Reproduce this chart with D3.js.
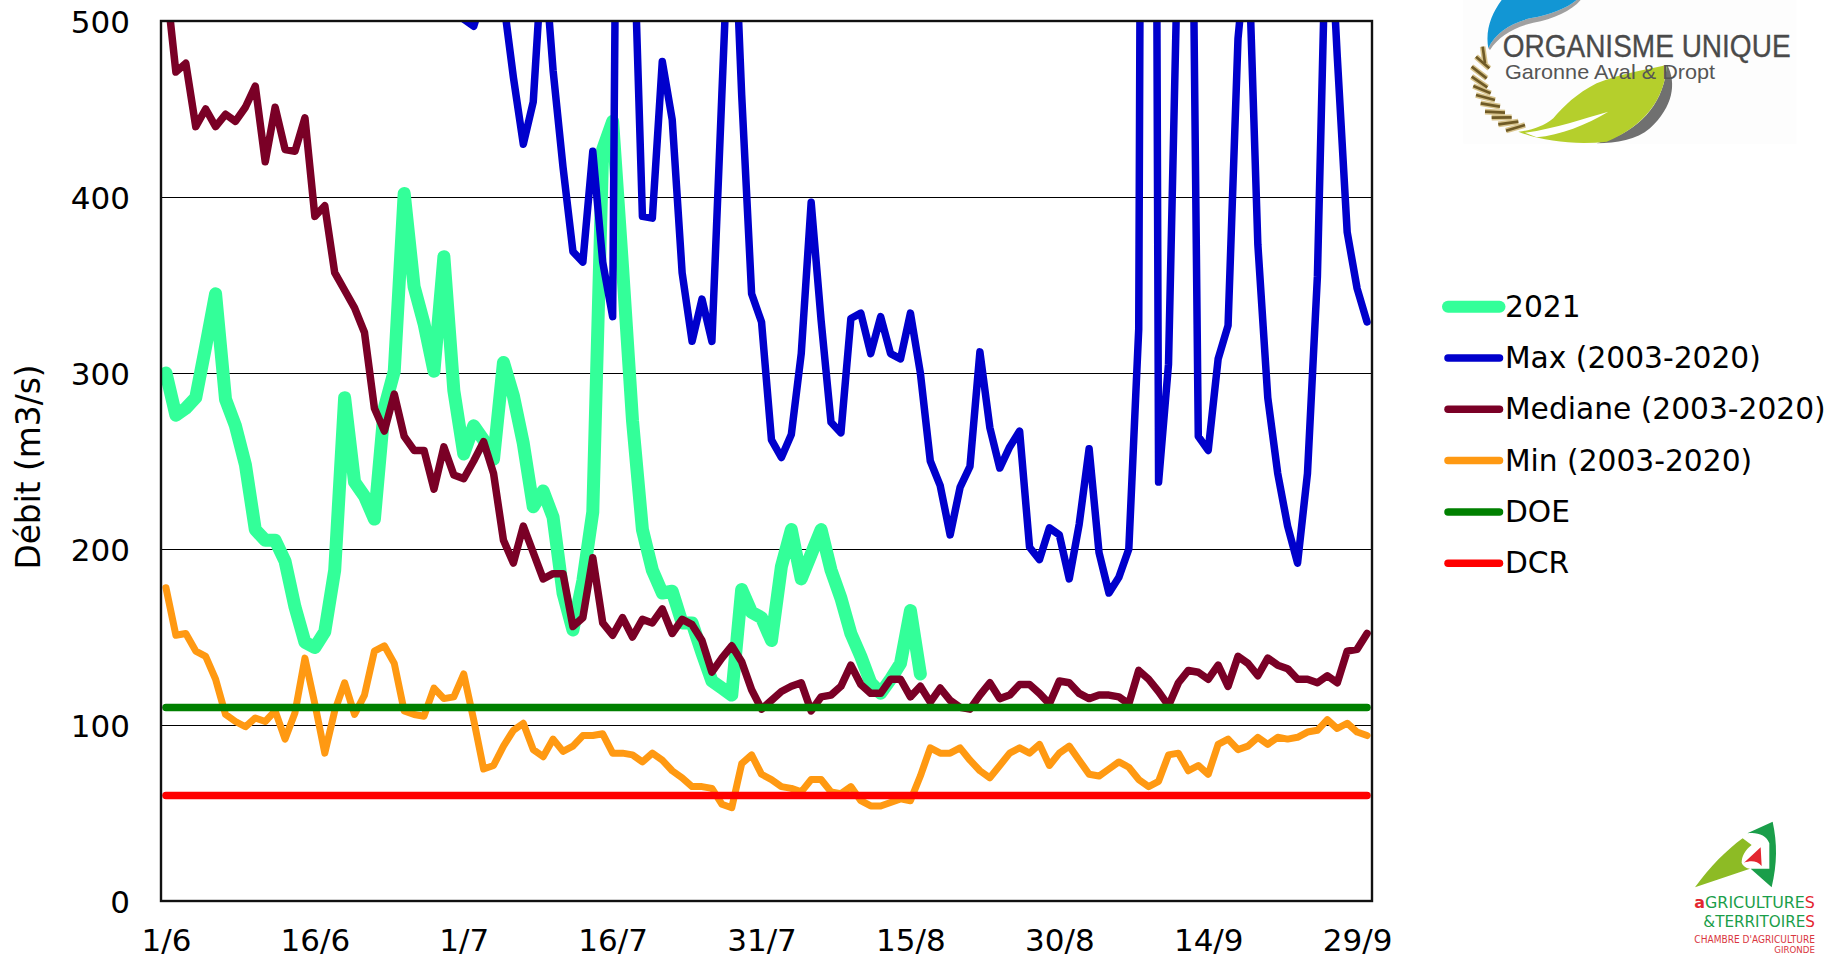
<!DOCTYPE html>
<html lang="fr">
<head>
<meta charset="utf-8">
<title>Débit (m3/s)</title>
<script src="https://cdn.jsdelivr.net/npm/d3@7"></script>
<style>
html,body{margin:0;padding:0;background:#fff;overflow:hidden}
svg{display:block}
text{font-family:"DejaVu Sans",sans-serif;fill:#000}
</style>
</head>
<body>
<svg id="chart" width="1833" height="960"></svg>
<script>
// ---------- data (values above 500 are off the chart and only estimated)
const tickLabels = ["1/6","16/6","1/7","16/7","31/7","15/8","30/8","14/9","29/9"];
const yTicks = [0,100,200,300,400,500];

const series2021 = [300,276,280,286,315,345,285,270,248,211,205,205,193,167,147,144,153,188,286,238,230,217,280,301,402,349,328,301,366,290,254,270,262,251,306,287,260,224,233,218,175,154,182,221,427,443,360,273,211,188,175,176,158,158,141,125,121,117,177,164,161,148,190,211,183,197,211,188,172,152,139,124,118,126,135,165,129];

const seriesMax = [640,700,780,690,620,600,660,750,820,720,640,610,590,640,700,680,610,580,560,620,660,720,640,600,570,550,590,620,560,525,501,497,515,560,512,468,430,454,545,472,417,369,363,426,363,332,1050,574,389,388,477,444,357,318,342,318,458,595,458,345,329,262,252,265,311,397,330,272,266,331,334,311,332,311,308,334,300,250,236,208,235,247,312,269,246,258,267,201,194,212,208,183,214,257,198,175,184,200,325,1800,238,305,560,806,264,256,308,327,490,550,373,286,243,213,192,243,355,589,480,380,348,329];

const seriesMedian = [523,471,476,440,450,440,447,443,451,463,420,451,427,426,445,389,395,357,347,337,323,280,267,288,264,256,256,234,258,242,240,250,261,243,205,192,213,198,183,186,186,156,161,195,158,151,161,150,160,158,166,152,160,157,148,130,138,145,136,120,109,114,119,122,124,108,116,117,122,134,123,118,118,126,126,116,122,113,121,114,110,109,117,124,115,117,123,123,118,112,125,124,118,115,117,117,116,112,131,126,119,111,124,131,130,126,134,122,139,135,128,138,134,132,126,126,124,128,124,142,143,152];

const seriesMin = [178,151,152,142,139,126,106,102,99,104,102,108,92,107,138,112,84,108,124,106,117,142,145,135,108,106,105,121,115,116,129,103,75,77,88,97,101,86,82,92,85,88,94,94,95,84,84,83,79,84,80,74,70,65,65,64,55,53,78,83,72,69,65,64,62,69,69,62,61,65,57,54,54,56,58,57,71,87,84,84,87,80,74,70,77,84,87,84,89,77,84,88,80,72,71,75,79,76,69,65,68,83,84,74,77,72,89,92,86,88,93,89,93,92,93,96,97,103,98,101,96,94];

const seriesDOE = new Array(122).fill(110);
const seriesDCR = new Array(122).fill(60);

const seriesNames = ["2021","Max (2003-2020)","Mediane (2003-2020)","Min (2003-2020)","DOE","DCR"];
const seriesValues = [series2021,seriesMax,seriesMedian,seriesMin,seriesDOE,seriesDCR];
const seriesColors = ["#33ff99","#0000cc","#7a0026","#ff9912","#008000","#ff0000"];
const seriesWidths = [13,7.5,7.5,7,7.5,7.5];
const legendWidths = [12,7.5,7.5,7.5,7.5,7.5];

// ---------- layout
const L=161,R=1372,T=21,B=901,FS=31,AXIS_FONT='"DejaVu Sans",sans-serif';
const svg=d3.select("#chart");
const x=d3.scalePoint().domain(d3.range(122)).range([L,R]).padding(0.5);
const y=d3.scaleLinear().domain([0,500]).range([B,T]);

svg.append("defs").append("clipPath").attr("id","plot")
  .append("rect").attr("x",L).attr("y",T).attr("width",R-L).attr("height",B-T);

// gridlines
svg.append("g").selectAll("line").data(yTicks.slice(1,-1)).join("line")
  .attr("x1",L).attr("x2",R).attr("y1",d=>Math.round(y(d))+0.5).attr("y2",d=>Math.round(y(d))+0.5)
  .attr("stroke","#000").attr("stroke-width",1);

// series
const line=d3.line().x((d,i)=>x(i)).y(d=>y(d));
svg.append("g").attr("clip-path","url(#plot)").selectAll("path").data(seriesValues).join("path")
  .attr("d",d=>line(d)).attr("fill","none")
  .attr("stroke",(d,i)=>seriesColors[i]).attr("stroke-width",(d,i)=>seriesWidths[i])
  .attr("stroke-linecap","round").attr("stroke-linejoin","round");

// frame
svg.append("rect").attr("x",L).attr("y",T).attr("width",R-L).attr("height",B-T)
  .attr("fill","none").attr("stroke","#111").attr("stroke-width",2.4);

// axes
const xAxis=d3.axisBottom(x).tickValues(d3.range(0,122,15)).tickFormat((d,i)=>tickLabels[i]).tickSize(0).tickPadding(27.5);
const gx=svg.append("g").attr("transform",`translate(0,${B})`).call(xAxis);
gx.select(".domain").remove();
gx.selectAll("text").style("font-size",FS+"px").style("font-family",AXIS_FONT).attr("fill","#000");

const yAxis=d3.axisLeft(y).tickValues(yTicks).tickSize(0).tickPadding(31);
const gy=svg.append("g").attr("transform",`translate(${L},0)`).call(yAxis);
gy.select(".domain").remove();
gy.selectAll("text").attr("dy","0.36em").style("font-size",FS+"px").style("font-family",AXIS_FONT).attr("fill","#000");

svg.append("text").attr("transform","translate(40,467) rotate(-90)").attr("text-anchor","middle")
  .style("font-size","32.8px").text("Débit (m3/s)");

// legend
const lg=svg.append("g").selectAll("g").data(seriesNames).join("g")
  .attr("transform",(d,i)=>`translate(1448,${306.7+i*51.3})`);
lg.append("line").attr("x1",0).attr("x2",51.5).attr("y1",0).attr("y2",0)
  .attr("stroke",(d,i)=>seriesColors[i]).attr("stroke-width",(d,i)=>legendWidths[i]).attr("stroke-linecap","round");
lg.append("text").attr("x",57).attr("y",10).style("font-size","29.7px").text(d=>d);

// squeeze a logo text to its measured width without changing its glyph height
function fit(t,px,py,w){
  const n=t.node().getComputedTextLength();
  t.attr("transform",`translate(${px},${py}) scale(${w/n},1)`);
  return t;
}

// ---------- logo top right (decorative)
const lo=svg.append("g").attr("transform","translate(1430,0) scale(0.3333)");
lo.append("rect").attr("x",100).attr("y",0).attr("width",1000).attr("height",432).attr("fill","#fdfdfd");
lo.append("path").attr("d","M180,150 C205,110 250,82 310,68 C370,58 425,32 452,0 L440,0 C410,25 360,45 300,55 C240,70 195,100 175,145 Z").attr("fill","#777").attr("opacity",.7);
lo.append("path").attr("d","M215,0 C185,40 165,90 175,145 C195,100 240,70 300,55 C360,45 410,25 440,0 Z").attr("fill","#1296d4");
const wheat=[[158,140,165,190],[138,170,178,205],[125,200,170,235],[125,230,172,262],[130,258,182,280],[138,285,195,300],[152,310,210,320],[165,335,225,338],[185,353,245,352],[205,373,265,365],[228,392,285,375]];
lo.append("g").selectAll("line").data(wheat).join("line")
  .attr("x1",d=>d[0]).attr("y1",d=>d[1]).attr("x2",d=>d[2]).attr("y2",d=>d[3])
  .attr("stroke","#d8c48e").attr("stroke-width",17);
lo.append("g").selectAll("line").data(wheat).join("line")
  .attr("x1",d=>d[0]).attr("y1",d=>d[1]).attr("x2",d=>d[2]).attr("y2",d=>d[3])
  .attr("stroke","#6f5a26").attr("stroke-width",8);
lo.append("path").attr("d","M712,195 C740,250 730,320 660,385 C620,420 560,430 500,430 L540,418 C640,380 705,300 710,195 Z").attr("fill","#707070");
lo.append("path").attr("d","M265,395 C300,392 340,380 370,355 C400,320 440,280 500,250 C570,220 650,210 710,195 C705,300 640,380 530,425 C440,435 340,425 265,395 Z").attr("fill","#b5cf2c");
lo.append("path").attr("d","M285,398 C380,385 460,355 535,335 C470,375 390,405 320,412 Z").attr("fill","#fff");
fit(lo.append("text").style("font-family",'"Liberation Sans",sans-serif').style("font-size","93px").style("fill","#4a4a4a").style("stroke","#4a4a4a").style("stroke-width","1").text("ORGANISME UNIQUE"),218,172,864);
fit(lo.append("text").style("font-family",'"Liberation Sans",sans-serif').style("font-size","60px").style("fill","#555").text("Garonne Aval & Dropt"),225,237,630);

// ---------- logo bottom right (decorative)
const lb=svg.append("g").attr("transform","translate(1660,800) scale(0.3333)");
lb.append("path").attr("d","M262,100 L338,65 C352,130 352,190 335,262 L272,206 L328,206 L328,130 C320,105 290,95 262,100 Z").attr("fill","#1a9e4a");
lb.append("path").attr("d","M105,262 C150,200 200,150 248,115 L275,135 C255,150 245,170 245,188 C250,200 260,205 270,206 Z").attr("fill","#8dbb25");
lb.append("path").attr("d","M252,188 L302,142 L305,198 C290,180 270,182 252,188 Z").attr("fill","#e3262f");
const lbt=lb.append("g").style("font-family",'"Liberation Sans",sans-serif');
const t1=lbt.append("text").style("font-size","47px").style("font-weight","bold");
t1.append("tspan").style("fill","#e3262f").text("a");
t1.append("tspan").style("fill","#1a9e4a").style("font-weight","normal").text("GRICULTURE");
t1.append("tspan").style("fill","#e3262f").style("font-weight","normal").text("S");
fit(t1,103,325,362);
const t2=lbt.append("text").style("font-size","47px");
t2.append("tspan").style("fill","#1a9e4a").text("&TERRITOIRE");
t2.append("tspan").style("fill","#e3262f").text("S");
fit(t2,130,380,335);
fit(lbt.append("text").style("font-size","34px").style("fill","#d9363e").text("CHAMBRE D'AGRICULTURE"),103,428,362);
fit(lbt.append("text").style("font-size","28px").style("fill","#d9363e").text("GIRONDE"),343,460,122);
</script>
</body>
</html>
